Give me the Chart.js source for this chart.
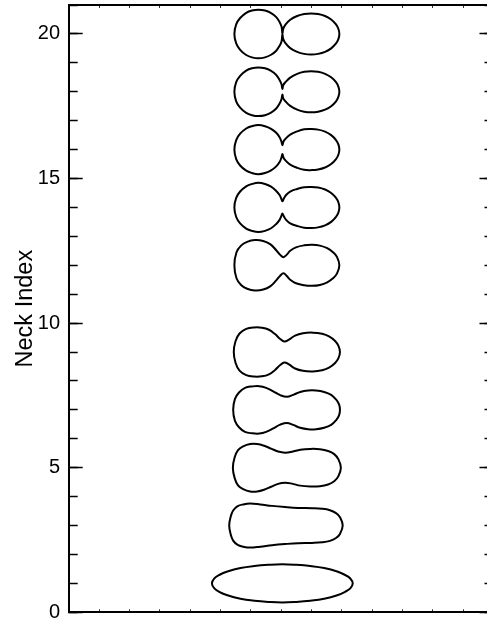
<!DOCTYPE html>
<html lang="en">

<head>
    <meta charset="UTF-8">
    <title>Neck Index</title>
    <script src="https://cdn.jsdelivr.net/npm/chart.js"></script>
    <style>
        html, body { margin: 0; padding: 0; background: #fff; overflow: hidden; }
        canvas { display: block; }
    </style>
</head>

<body>
    <canvas id="neckChart" width="494" height="621"></canvas>

    <script>
        // neck index (vertical position) of each shape
        const neckIndex = [1, 3, 5, 7, 9, 12, 14, 16, 18, 20];

        // outlines: x position along the shape and half thickness
        const shape1X = [-2.28, -2.20, -2.04, -1.77, -1.34, -0.88, -0.42, 0.04, 0.50, 0.96, 1.42, 1.85, 2.11, 2.28, 2.36];
        const shape1H = [0, 0.17, 0.29, 0.41, 0.53, 0.60, 0.64, 0.66, 0.64, 0.60, 0.53, 0.41, 0.29, 0.17, 0];

        const shape3X = [-1.71, -1.66, -1.58, -1.43, -1.25, -1.02, -0.69, -0.30, 0.13, 0.56, 1.02, 1.35, 1.61, 1.81, 1.94, 2.03];
        const shape3H = [0, 0.31, 0.52, 0.67, 0.73, 0.76, 0.73, 0.68, 0.64, 0.61, 0.60, 0.58, 0.53, 0.43, 0.29, 0];

        const shape5X = [-1.59, -1.53, -1.42, -1.25, -1.02, -0.79, -0.56, -0.33, -0.10, 0.13, 0.36, 0.63, 0.96, 1.28, 1.55, 1.75, 1.89, 1.97];
        const shape5H = [0, 0.36, 0.61, 0.74, 0.82, 0.82, 0.76, 0.66, 0.56, 0.52, 0.55, 0.62, 0.65, 0.64, 0.58, 0.47, 0.29, 0];

        const shape7X = [-1.58, -1.52, -1.38, -1.19, -0.96, -0.72, -0.49, -0.26, -0.03, 0.19, 0.40, 0.63, 0.89, 1.15, 1.42, 1.65, 1.81, 1.91, 1.94];
        const shape7H = [0, 0.38, 0.61, 0.76, 0.81, 0.82, 0.76, 0.64, 0.51, 0.45, 0.52, 0.62, 0.67, 0.67, 0.62, 0.52, 0.36, 0.19, 0];

        const shape9X = [-1.56, -1.50, -1.37, -1.15, -0.89, -0.63, -0.40, -0.20, -0.03, 0.11, 0.26, 0.46, 0.72, 1.05, 1.35, 1.58, 1.78, 1.89, 1.94];
        const shape9H = [0, 0.38, 0.64, 0.80, 0.85, 0.84, 0.77, 0.62, 0.45, 0.36, 0.43, 0.57, 0.65, 0.67, 0.63, 0.54, 0.38, 0.21, 0];

        const shape12X = [-1.54, -1.47, -1.32, -1.12, -0.86, -0.59, -0.36, -0.16, -0.03, 0.08, 0.18, 0.30, 0.49, 0.76, 1.02, 1.28, 1.52, 1.71, 1.84, 1.92];
        const shape12H = [0, 0.45, 0.68, 0.81, 0.87, 0.84, 0.73, 0.52, 0.36, 0.28, 0.36, 0.50, 0.62, 0.69, 0.71, 0.68, 0.59, 0.45, 0.29, 0];

        const shape14X = [-1.54, -1.48, -1.35, -1.15, -0.96, -0.75, -0.53, -0.33, -0.16, -0.05, 0.007, 0.043, 0.086, 0.165, 0.30, 0.53, 0.76, 0.99, 1.22, 1.45, 1.65, 1.81, 1.89, 1.92];
        const shape14H = [0, 0.33, 0.55, 0.73, 0.81, 0.85, 0.81, 0.72, 0.57, 0.43, 0.30, 0.21, 0.30, 0.43, 0.55, 0.64, 0.70, 0.71, 0.69, 0.62, 0.50, 0.33, 0.17, 0];

        const shape16X = [-1.54, -1.48, -1.35, -1.15, -0.96, -0.75, -0.53, -0.33, -0.16, -0.05, 0.01, 0.043, 0.079, 0.15, 0.30, 0.53, 0.76, 0.99, 1.22, 1.45, 1.65, 1.81, 1.89, 1.92];
        const shape16H = [0, 0.33, 0.55, 0.73, 0.81, 0.85, 0.81, 0.72, 0.58, 0.43, 0.28, 0.15, 0.28, 0.38, 0.52, 0.63, 0.70, 0.71, 0.69, 0.62, 0.50, 0.33, 0.17, 0];

        const shape18X = [-1.54, -1.48, -1.35, -1.15, -0.96, -0.75, -0.53, -0.33, -0.16, -0.05, 0.013, 0.043, 0.072, 0.15, 0.30, 0.53, 0.76, 0.99, 1.22, 1.45, 1.65, 1.81, 1.89, 1.92];
        const shape18H = [0, 0.33, 0.55, 0.73, 0.81, 0.84, 0.81, 0.72, 0.58, 0.41, 0.26, 0.10, 0.23, 0.34, 0.49, 0.62, 0.69, 0.71, 0.69, 0.62, 0.50, 0.33, 0.17, 0];

        const shape20X = [-1.54, -1.48, -1.35, -1.15, -0.96, -0.75, -0.53, -0.33, -0.16, -0.05, 0.016, 0.043, 0.072, 0.15, 0.30, 0.53, 0.76, 0.99, 1.22, 1.45, 1.65, 1.81, 1.89, 1.92];
        const shape20H = [0, 0.33, 0.55, 0.73, 0.81, 0.84, 0.81, 0.72, 0.58, 0.41, 0.25, 0.02, 0.18, 0.33, 0.49, 0.62, 0.69, 0.71, 0.69, 0.62, 0.50, 0.33, 0.17, 0];

        const shapeX = [shape1X, shape3X, shape5X, shape7X, shape9X, shape12X, shape14X, shape16X, shape18X, shape20X];
        const shapeH = [shape1H, shape3H, shape5H, shape7H, shape9H, shape12H, shape14H, shape16H, shape18H, shape20H];

        const yTicks = [0, 5, 10, 15, 20];

        const FONT = 'Liberation Sans, Arial, Helvetica, sans-serif';

        // top edge left to right, then bottom edge back again
        function outline(k) {
            const xs = shapeX[k], hs = shapeH[k], yc = neckIndex[k];
            const pts = [];
            for (let i = 0; i < xs.length; i++) pts.push({ x: xs[i], y: yc + hs[i] });
            for (let i = xs.length - 2; i > 0; i--) pts.push({ x: xs[i], y: yc - hs[i] });
            return pts;
        }

        const datasets = neckIndex.map((n, k) => ({
            label: 'Neck ' + n,
            data: outline(k),
            xAxisID: 'x',
            yAxisID: 'y',
            borderColor: '#000',
            borderWidth: 2,
            pointRadius: 0,
            fill: false,
            tension: 0.4
        }));

        // make each line a closed smooth loop
        const closeShapes = {
            id: 'closeShapes',
            beforeDatasetsDraw(chart) {
                chart.data.datasets.forEach((ds, i) => {
                    const line = chart.getDatasetMeta(i).dataset;
                    line._loop = true;
                    line._fullLoop = true;
                    line._segments = undefined;
                    line._path = undefined;
                    line._pointsUpdated = false;
                });
            }
        };

        function fixWidth(w) {
            return function (scale) {
                scale.width = w;
                scale.paddingTop = 0;
                scale.paddingBottom = 0;
            };
        }
        function fixHeight(scale) {
            scale.height = 0;
            scale.paddingLeft = 0;
            scale.paddingRight = 0;
        }

        const xAxis = (pos) => ({
            type: 'linear',
            position: pos,
            min: -7,
            max: 7,
            afterFit: fixHeight,
            ticks: { display: false, stepSize: 1 },
            grid: { drawOnChartArea: false, tickLength: -3, tickWidth: 1, tickColor: '#333' },
            border: { display: true, color: '#000', width: 2 }
        });

        const yMinor = (pos) => ({
            type: 'linear',
            position: pos,
            weight: 0,
            min: 0,
            max: 21,
            afterFit: fixWidth(0),
            ticks: { display: false, stepSize: 1 },
            grid: { drawOnChartArea: false, tickLength: -9, tickWidth: 1.5, tickColor: '#000' },
            border: { display: false }
        });

        const ctx = document.getElementById('neckChart').getContext('2d');
        new Chart(ctx, {
            type: 'line',
            data: { datasets: datasets },
            plugins: [closeShapes],
            options: {
                responsive: false,
                animation: false,
                devicePixelRatio: 1,
                layout: { padding: { top: 5, bottom: 8.7, left: 0, right: 0.5 } },
                plugins: { legend: { display: false }, tooltip: { enabled: false } },
                scales: {
                    x: xAxis('bottom'),
                    x2: xAxis('top'),
                    y: {
                        type: 'linear',
                        position: 'left',
                        weight: 1,
                        min: 0,
                        max: 21,
                        afterFit: fixWidth(68.7),
                        afterBuildTicks: (scale) => { scale.ticks = yTicks.map(v => ({ value: v })); },
                        ticks: { color: '#000', padding: 22.7, font: { family: FONT, size: 20 } },
                        grid: { drawOnChartArea: false, tickLength: -14, tickWidth: 1.5, tickColor: '#000' },
                        border: { display: true, color: '#000', width: 2 },
                        title: {
                            display: true,
                            text: 'Neck Index',
                            color: '#000',
                            font: { family: FONT, size: 23.5 },
                            padding: { top: 11, bottom: 0 }
                        }
                    },
                    yMinor: yMinor('left'),
                    yR: {
                        type: 'linear',
                        position: 'right',
                        weight: 1,
                        min: 0,
                        max: 21,
                        afterFit: fixWidth(0),
                        afterBuildTicks: (scale) => { scale.ticks = yTicks.map(v => ({ value: v })); },
                        ticks: { display: false },
                        grid: { drawOnChartArea: false, tickLength: -14, tickWidth: 1.5, tickColor: '#000' },
                        border: { display: true, color: '#000', width: 2 }
                    },
                    yRMinor: yMinor('right')
                }
            }
        });
    </script>
</body>

</html>
